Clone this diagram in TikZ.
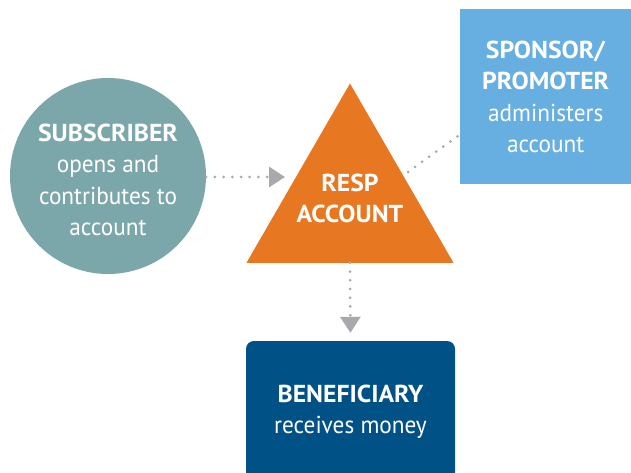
\documentclass[tikz,border=0pt]{standalone}
\usepackage{fontspec}
\setmainfont[FakeStretch=0.95, BoldFeatures={FakeStretch=1.05}]{PT Sans}
\usetikzlibrary{shapes.geometric,arrows.meta}

\definecolor{subcol}{HTML}{7CA7AA}
\definecolor{respcol}{HTML}{E87722}
\definecolor{sponcol}{HTML}{66AFE0}
\definecolor{bencol}{HTML}{005186}
\definecolor{dotcol}{HTML}{A7A9AC}

\tikzset{
	flow/.style={dotcol, line width=3pt, line cap=round, dash pattern=on 0pt off 8.7pt},
	tip/.style={-{Triangle[length=16pt,width=20pt,fill=dotcol]}},
	boxtext/.style={text=white, align=center, inner sep=0pt, font=\fontsize{24.5}{31.5}\selectfont}
}

\begin{document}
\begin{tikzpicture}[x=1pt,y=-1pt]
			\useasboundingbox (0,0) rectangle (631,473);
			
			%Subscriber
			\node[circle, fill=subcol, minimum size=196pt, boxtext] (sub) at (108,176) {};
			\node[boxtext] (subtext) at (108,180) {\textbf{SUBSCRIBER}\\opens and\\contributes to\\account};
			
			%RESP account
			\node[regular polygon, regular polygon sides=3, minimum size=239pt, inner sep=0pt, fill=respcol] (resp) at (350,203) {};
			\node[boxtext, font=\fontsize{24.5}{31}\selectfont\bfseries] (resptext) at (350,198) {RESP\\ACCOUNT};
			
			%Sponsor / promoter
			\node[anchor=north west, fill=sponcol, minimum width=171pt, minimum height=175pt, boxtext] (spon) at (460,9) {\textbf{SPONSOR/}\\\textbf{PROMOTER}\\administers\\account};
			
			%Beneficiary
			\node[fill=bencol, rounded corners=8pt, minimum width=209pt, minimum height=142pt, boxtext] (ben) at (350.5,412) {\textbf{BENEFICIARY}\\receives money};
			
			%Connectors
			\coordinate (respin) at (285,177);
			\coordinate (sponout) at (408,172);
			\coordinate (sponin) at (458,136);
			\draw[flow, tip] (sub.east |- respin) -- (respin);
			\draw[flow, tip, shorten >=8pt] (resp.south) -- (ben.north);
			\draw[flow] (sponout) -- (sponin);
			
		\end{tikzpicture}
\end{document}
